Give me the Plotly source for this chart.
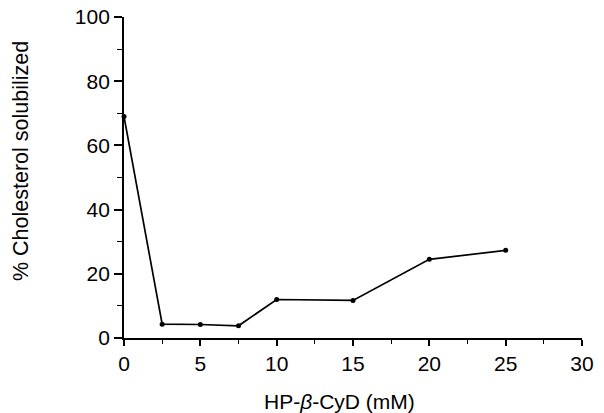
import plotly.graph_objects as go

# Data
x_mM = [0, 2.5, 5, 7.5, 10, 15, 20, 25]
pct_solubilized = [69, 4.3, 4.2, 3.8, 12, 11.7, 24.5, 27.3]

x_ticks = [0, 5, 10, 15, 20, 25, 30]
x_minor = [2.5, 7.5, 12.5, 17.5, 22.5, 27.5]
y_ticks = [0, 20, 40, 60, 80, 100]
y_minor = [10, 30, 50, 70, 90]

x_title = "HP-<i>β</i>-CyD (mM)"
y_title = "% Cholesterol solubilized"

W, H = 604, 413
L, R, T, B = 124, 22, 17, 75

font_family = "Liberation Sans, Arial, Helvetica, sans-serif"

fig = go.Figure()
fig.add_trace(go.Scatter(
    x=x_mM, y=pct_solubilized, mode="lines+markers",
    line=dict(color="black", width=1.7),
    marker=dict(color="black", size=5),
    cliponaxis=False, showlegend=False,
))

fig.update_layout(
    width=W, height=H,
    margin=dict(l=L, r=R, t=T, b=B, autoexpand=False),
    paper_bgcolor="white", plot_bgcolor="white",
    font=dict(family=font_family, color="black", size=21),
)
fig.update_xaxes(
    range=[0, 30], tickvals=x_ticks, ticks="outside", ticklen=6, tickwidth=1.5,
    tickcolor="black", showline=True, linecolor="black", linewidth=1.8,
    showgrid=False, zeroline=False, automargin=False,
    minor=dict(tickvals=x_minor, ticks="outside", ticklen=4, tickcolor="black", tickwidth=1.2),
    tickfont=dict(size=21),
)
fig.update_yaxes(
    range=[0, 100], tickvals=y_ticks, ticks="outside", ticklen=8, tickwidth=1.5,
    tickcolor="black", showline=True, linecolor="black", linewidth=1.8,
    showgrid=False, zeroline=False, automargin=False,
    minor=dict(tickvals=y_minor, ticks="outside", ticklen=5, tickcolor="black", tickwidth=1.2),
    tickfont=dict(size=21),
)

# Axis titles placed where they sit in the reference
fig.add_annotation(
    text=y_title, xref="paper", yref="paper", x=-0.2249, y=0.5514,
    textangle=-90, showarrow=False, xanchor="center", yanchor="middle",
    font=dict(size=21.5),
)
fig.add_annotation(
    text=x_title, xref="paper", yref="paper", x=0.4716, y=-0.1978,
    showarrow=False, xanchor="center", yanchor="middle",
    font=dict(size=21),
)

# Remove the default 8px page margin so the figure fills the window exactly
fig.write_html(
    "out.html",
    config={"displayModeBar": False},
    post_script="document.body.style.margin='0';",
)
